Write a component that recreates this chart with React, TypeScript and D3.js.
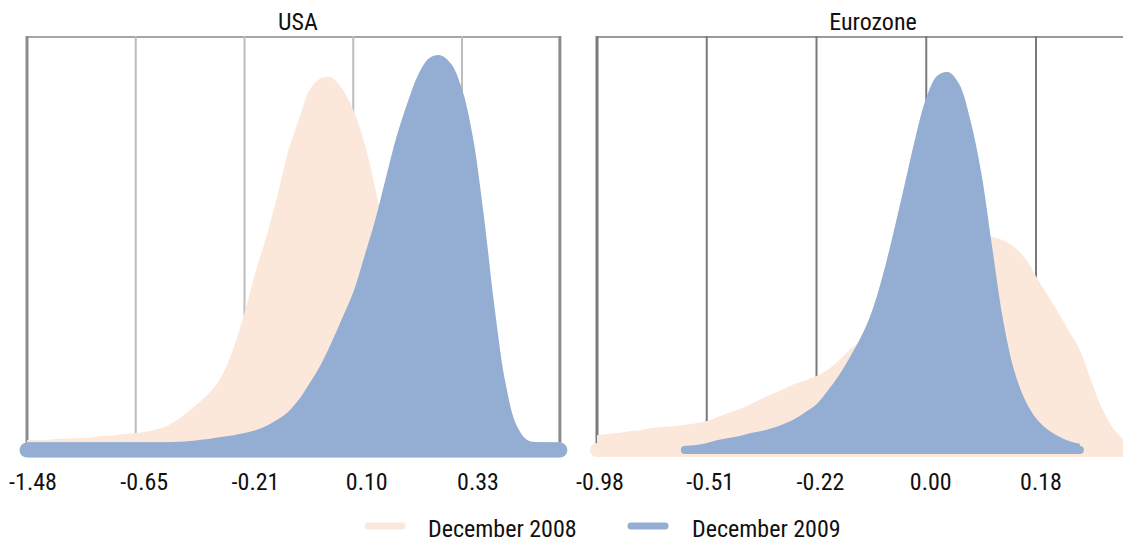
import React, { useEffect } from "react";
import * as d3 from "d3";

const W = 1123;
const H = 543;

// tick labels under the gridlines
const usaTicks = ["-1.48", "-0.65", "-0.21", "0.10", "0.33"];
const euroTicks = ["-0.98", "-0.51", "-0.22", "0.00", "0.18"];
const seriesNames = ["December 2008", "December 2009"];
const panelNames = ["USA", "Eurozone"];

// density, read every tenth of a grid interval (index 0 = first gridline)
const usa2008 = [
  0.24, 0.24, 0.25, 0.27, 0.28, 0.29, 0.31, 0.34, 0.36, 0.39,
  0.41, 0.45, 0.5, 0.6, 0.76, 0.97, 1.19, 1.45, 1.84, 2.47,
  3.32, 4.3, 5.16, 6.13, 7.22, 8.0, 8.72, 9.0, 9.02, 8.74,
  8.23, 7.46, 6.37, 5.08, 3.87, 2.66, 1.57, 0.85, 0.44, 0.27,
  0.19, 0.17, 0.17, 0.17, 0.17, 0.17, 0.17, 0.17, 0.17, 0.17,
];
const usa2009 = [
  0.19, 0.19, 0.19, 0.19, 0.19, 0.19, 0.19, 0.19, 0.19, 0.19,
  0.19, 0.19, 0.19, 0.19, 0.2, 0.22, 0.25, 0.28, 0.32, 0.36,
  0.41, 0.48, 0.58, 0.73, 0.92, 1.22, 1.62, 2.06, 2.6, 3.2,
  3.82, 4.67, 5.55, 6.59, 7.6, 8.42, 9.1, 9.49, 9.56, 9.35,
  8.74, 7.58, 5.69, 3.44, 1.62, 0.61, 0.24, 0.19, 0.19, 0.19,
];
const euro2008 = [
  0.36, 0.39, 0.41, 0.46, 0.48, 0.53, 0.56, 0.58, 0.61, 0.65,
  0.7, 0.8, 0.9, 0.99, 1.11, 1.24, 1.36, 1.48, 1.6, 1.69,
  1.79, 1.94, 2.16, 2.42, 2.66, 2.95, 3.2, 3.51, 3.83, 4.12,
  4.41, 4.65, 4.84, 4.99, 5.08, 5.13, 5.16, 5.08, 4.92, 4.65,
  4.21, 3.78, 3.34, 2.88, 2.42, 1.69, 1.02, 0.53, 0.24,
];
const euro2009Start = 8;
const euro2009 = [
  0.1, 0.12, 0.17, 0.24, 0.29, 0.34, 0.41, 0.46, 0.53, 0.63,
  0.75, 0.92, 1.11, 1.43, 1.79, 2.23, 2.71, 3.32, 4.19, 5.25,
  6.39, 7.55, 8.52, 9.06, 9.15, 8.86, 8.01, 6.73, 4.92, 3.15,
  1.94, 1.21, 0.77, 0.51, 0.34, 0.22, 0.15,
];

const colors = ["#fce8da", "#93aed2"];

const y = d3.scaleLinear().domain([0, 10]).range([450, 37]);

const panels = [
  {
    name: panelNames[0],
    ticks: usaTicks,
    x: d3.scaleLinear().domain([0, 40]).range([27, 462]),
    labelX: d3.scaleLinear().domain([0, 40]).range([33, 478]),
    right: 49,
    titleX: 298,
    series: [
      { values: usa2008, start: 0, band: 15 },
      { values: usa2009, start: 0, band: 15 },
    ],
    inner: "#bdbdbd",
    border: "#8c8c8c",
    top: "#a6a6a6",
  },
  {
    name: panelNames[1],
    ticks: euroTicks,
    x: d3.scaleLinear().domain([0, 40]).range([597, 1036]),
    labelX: d3.scaleLinear().domain([0, 40]).range([600, 1041]),
    right: 50,
    titleX: 873,
    series: [
      { values: euro2008, start: 0, band: 14 },
      { values: euro2009, start: euro2009Start, band: 8 },
    ],
    inner: "#7a7a7a",
    border: "#7a7a7a",
    top: "#9a9a9a",
  },
];

const font = "'Liberation Sans Narrow', 'Arial Narrow', 'Roboto Condensed', 'Liberation Sans', sans-serif";

export default function App() {
  useEffect(() => {
    document.body.style.margin = "0";
  }, []);

  return (
    <svg width={W} height={H} style={{ display: "block", background: "#fff" }} fontFamily={font}>
      {panels.map((p) => {
        const x = p.x;
        const gridIdx = [0, 10, 20, 30, 40];
        return (
          <g key={p.name}>
            <text x={p.titleX} y={30} fontSize={24} textAnchor="middle" fill="#111">
              {p.name}
            </text>
            {/* frame and gridlines */}
            <line x1={x(0)} x2={x(p.right)} y1={37} y2={37} stroke={p.top} strokeWidth={2} />
            {gridIdx.map((g, i) => (
              <line
                key={g}
                x1={x(g)}
                x2={x(g)}
                y1={36}
                y2={446}
                stroke={i === 0 ? p.border : p.inner}
                strokeWidth={i === 0 ? 3 : 2}
              />
            ))}
            <line x1={x(p.right)} x2={x(p.right)} y1={36} y2={446} stroke={p.border} strokeWidth={3} />
            {p.series.map((s, si) => {
              const area = d3
                .area<number>()
                .x((_, i) => x(i + s.start))
                .y0(y(0))
                .y1((d) => y(d))
                .curve(d3.curveCatmullRom.alpha(0.5));
              const x0 = x(s.start);
              const x1 = x(s.start + s.values.length - 1);
              return (
                <g key={si}>
                  <path d={area(s.values) ?? ""} fill={colors[si]} />
                  <line
                    x1={x0}
                    x2={x1}
                    y1={y(0)}
                    y2={y(0)}
                    stroke={colors[si]}
                    strokeWidth={s.band}
                    strokeLinecap="round"
                  />
                </g>
              );
            })}
            {p.ticks.map((t, i) => (
              <text key={t} x={p.labelX(gridIdx[i])} y={490} fontSize={24} textAnchor="middle" fill="#111">
                {t}
              </text>
            ))}
          </g>
        );
      })}
      {/* legend */}
      {seriesNames.map((n, i) => {
        const lx = [368, 631][i];
        return (
          <g key={n}>
            <line
              x1={lx}
              x2={lx + 34}
              y1={526}
              y2={526}
              stroke={colors[i]}
              strokeWidth={7}
              strokeLinecap="round"
            />
            <text x={[428, 692][i]} y={537} fontSize={24} fill="#111">
              {n}
            </text>
          </g>
        );
      })}
    </svg>
  );
}
